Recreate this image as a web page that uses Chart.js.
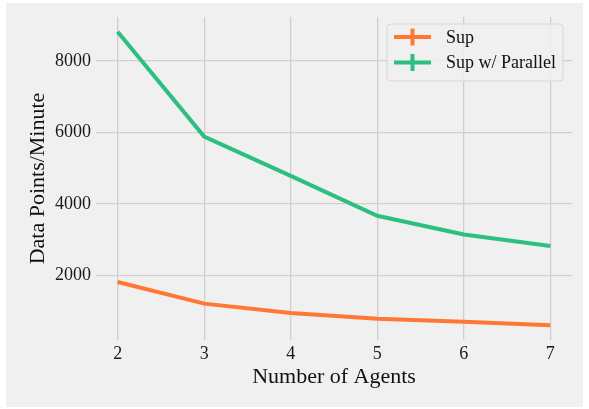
<!DOCTYPE html>
<html>
<head>
<meta charset="utf-8">
<script src="https://cdn.jsdelivr.net/npm/chart.js@4.4.1/dist/chart.umd.min.js"></script>
<style>
  html, body { margin: 0; padding: 0; background: #ffffff; }
  #wrap { width: 589px; height: 409px; position: relative; }
</style>
</head>
<body>
<div id="wrap"><canvas id="c" width="589" height="409"></canvas></div>
<script>
// Throughput vs. number of agents
const agents = [2, 3, 4, 5, 6, 7];
const supValues = [1809, 1203, 942, 783, 699, 596];
const parallelValues = [8820, 5883, 4783, 3664, 3142, 2816];
const seriesLabels = ['Sup', 'Sup w/ Parallel'];
const seriesColors = ['#ff7833', '#2dbf7f'];
const yTicks = [2000, 4000, 6000, 8000];

const serif = "'Liberation Serif', 'Times New Roman', serif";

// Axis ranges with a 5% margin around the data, matplotlib-style
const allY = supValues.concat(parallelValues);
const yLo = Math.min(...allY), yHi = Math.max(...allY);
const yPad = (yHi - yLo) * 0.05;
const xPad = (agents[agents.length - 1] - agents[0]) * 0.05;

const toPoints = vals => vals.map((v, i) => ({ x: agents[i], y: v }));

// Page background panel
const panelBg = {
  id: 'panelBg',
  beforeDraw(chart) {
    const ctx = chart.ctx;
    ctx.save();
    ctx.fillStyle = '#ffffff';
    ctx.fillRect(0, 0, chart.width, chart.height);
    ctx.fillStyle = '#f0f0f0';
    ctx.fillRect(6, 3, chart.width - 12, chart.height - 5);
    ctx.restore();
  }
};

// Legend with line-and-cross handles in the upper right of the plot
const crossLegend = {
  id: 'crossLegend',
  afterDraw(chart) {
    const ctx = chart.ctx;
    const area = chart.chartArea;
    const boxW = 176, boxH = 57;
    const bx = area.right - 9 - boxW;
    const by = area.top + 7;
    ctx.save();
    ctx.beginPath();
    ctx.roundRect(bx, by, boxW, boxH, 4);
    ctx.fillStyle = 'rgba(240,240,240,0.85)';
    ctx.fill();
    ctx.strokeStyle = '#d6d6d6';
    ctx.lineWidth = 1;
    ctx.stroke();
    chart.data.datasets.forEach((ds, i) => {
      const cy = by + 13 + i * 25.5;
      const x0 = bx + 7, x1 = bx + 44, xm = (x0 + x1) / 2;
      ctx.strokeStyle = ds.borderColor;
      ctx.lineWidth = 4;
      ctx.lineCap = 'butt';
      ctx.beginPath();
      ctx.moveTo(x0, cy); ctx.lineTo(x1, cy);
      ctx.moveTo(xm, cy - 8.5); ctx.lineTo(xm, cy + 8.5);
      ctx.stroke();
      ctx.fillStyle = '#111111';
      ctx.font = '18px ' + serif;
      ctx.textBaseline = 'middle';
      ctx.textAlign = 'left';
      ctx.fillText(ds.label, bx + 59, cy + 1);
    });
    ctx.restore();
  }
};

new Chart(document.getElementById('c'), {
  type: 'line',
  data: {
    datasets: [
      { label: seriesLabels[0], data: toPoints(supValues), borderColor: seriesColors[0], backgroundColor: seriesColors[0] },
      { label: seriesLabels[1], data: toPoints(parallelValues), borderColor: seriesColors[1], backgroundColor: seriesColors[1] }
    ]
  },
  options: {
    responsive: false,
    animation: false,
    devicePixelRatio: 1,
    layout: { padding: { left: 0, right: 17, top: 17, bottom: 0 } },
    elements: {
      line: { borderWidth: 4, tension: 0, borderCapStyle: 'butt', borderJoinStyle: 'miter' },
      point: { radius: 0, hoverRadius: 0 }
    },
    plugins: {
      legend: { display: false },
      tooltip: { enabled: false }
    },
    scales: {
      x: {
        type: 'linear',
        min: agents[0] - xPad,
        max: agents[agents.length - 1] + xPad,
        afterFit: s => { s.height = 69; },
        border: { display: false },
        grid: { color: '#cfcfcf', lineWidth: 1.3, drawTicks: false },
        ticks: {
          stepSize: 1,
          includeBounds: false,
          padding: 3,
          color: '#1a1a1a',
          font: { family: serif, size: 18 },
          callback: v => Number.isInteger(v) ? String(v) : ''
        },
        title: {
          display: true,
          text: 'Number of Agents',
          color: '#111111',
          font: { family: serif, size: 22 },
          padding: { top: 0, bottom: 19 }
        }
      },
      y: {
        type: 'linear',
        min: yLo - yPad,
        max: yHi + yPad,
        afterFit: s => { s.width = 96; },
        afterBuildTicks: s => { s.ticks = yTicks.map(v => ({ value: v })); },
        border: { display: false },
        grid: { color: '#cfcfcf', lineWidth: 1.3, drawTicks: false },
        ticks: {
          padding: 5,
          color: '#1a1a1a',
          font: { family: serif, size: 18 },
          callback: v => String(v)
        },
        title: {
          display: true,
          text: 'Data Points/Minute',
          color: '#111111',
          font: { family: serif, size: 22 },
          padding: { top: 25, bottom: 0 }
        }
      }
    }
  },
  plugins: [panelBg, crossLegend]
});
</script>
</body>
</html>
